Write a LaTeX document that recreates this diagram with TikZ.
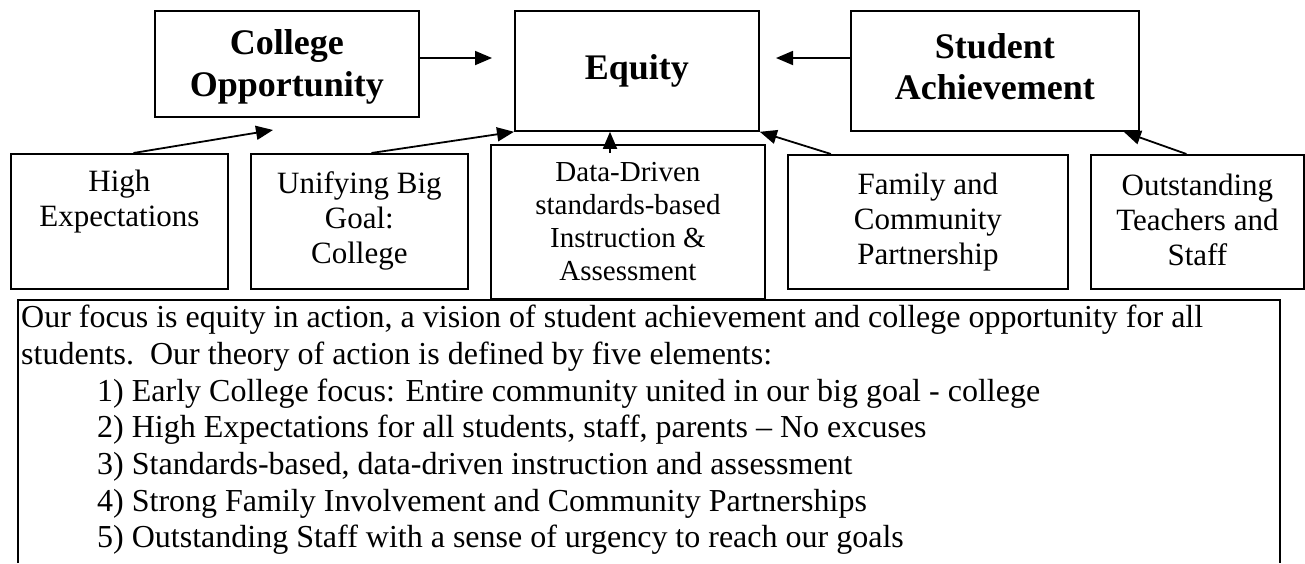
\documentclass[tikz,border=0pt]{standalone}
\usepackage{fontspec}
\setmainfont{Liberation Serif}
\usetikzlibrary{arrows.meta}
\begin{document}
\begin{tikzpicture}[x=1pt,y=-1pt,
  hbox/.style={draw, line width=1.8pt, inner sep=0pt, anchor=north west},
  htxt/.style={font=\fontsize{36}{41.5}\selectfont\bfseries, align=center, inner sep=0pt},
  sub/.style={draw, line width=1.8pt, font=\fontsize{31}{35}\selectfont, align=center, inner sep=0pt, anchor=north west},
  arr/.style={line width=1.8pt, -{Triangle[length=17pt,width=14pt]}}]
\useasboundingbox (0,0) rectangle (1305,563);
% top row
\node[hbox, minimum width=264pt, minimum height=106pt] (co) at (154,10) {};
\node[htxt, yshift=-3pt] (coT) at (co.center) {College\\Opportunity};
\node[hbox, minimum width=244pt, minimum height=120pt] (eq) at (514,10) {};
\node[htxt] (eqT) at (eq.center) {Equity};
\node[hbox, minimum width=288pt, minimum height=120pt] (sa) at (850,10) {};
\node[htxt, yshift=4pt] (saT) at (sa.center) {Student\\Achievement};
% bottom row
\node[sub, minimum width=217pt, minimum height=135pt] (he) at (10,153) {High\\Expectations\\\strut};
\node[sub, minimum width=217pt, minimum height=135pt] (ub) at (250,153) {Unifying Big\\Goal:\\College};
\node[sub, minimum width=274pt, minimum height=154pt, font=\fontsize{29}{33}\selectfont] (dd) at (490,144) {Data-Driven\\standards-based\\Instruction \&\\Assessment};
\node[sub, minimum width=280pt, minimum height=134pt] (fc) at (787,154) {Family and\\Community\\Partnership};
\node[sub, minimum width=213pt, minimum height=134pt] (ot) at (1090,154) {};
\node[font=\fontsize{31}{35}\selectfont, align=center, inner sep=0pt, yshift=2pt] (otT) at (ot.center) {Outstanding\\Teachers and\\Staff};
% arrows
\coordinate (e1) at (492,58);
\coordinate (e2) at (776,58);
\coordinate (c1) at (273,130);
\coordinate (d0) at (610,153);
\draw[arr] (co.east |- e1) -- (e1);
\draw[arr] (sa.west |- e2) -- (e2);
\draw[arr] ([xshift=14pt]he.north) -- (c1);
\draw[arr] ([xshift=12pt]ub.north) -- (eq.south west);
\draw[arr] (d0) -- (d0 |- eq.south);
\draw[arr] ([xshift=-97pt]fc.north) -- (eq.south east);
\draw[arr] ([xshift=-11pt]ot.north) -- ([xshift=-16pt]sa.south east);
% text box
\node[anchor=north west, inner sep=0pt, align=left, font=\fontsize{32}{36.7}\selectfont] (tb) at (21,305)
{Our focus is equity in action, a vision of student achievement and college opportunity for all\\
students.\ \ Our theory of action is defined by five elements:\\
\hspace*{76pt}1) Early College focus: Entire community united in our big goal - college\\
\hspace*{76pt}2) High Expectations for all students, staff, parents – No excuses\\
\hspace*{76pt}3) Standards-based, data-driven instruction and assessment\\
\hspace*{76pt}4) Strong Family Involvement and Community Partnerships\\
\hspace*{76pt}5) Outstanding Staff with a sense of urgency to reach our goals};
\draw[line width=2.8pt] (18,563) -- (18,300) -- (1280,300) -- (1280,563);
\end{tikzpicture}
\end{document}
